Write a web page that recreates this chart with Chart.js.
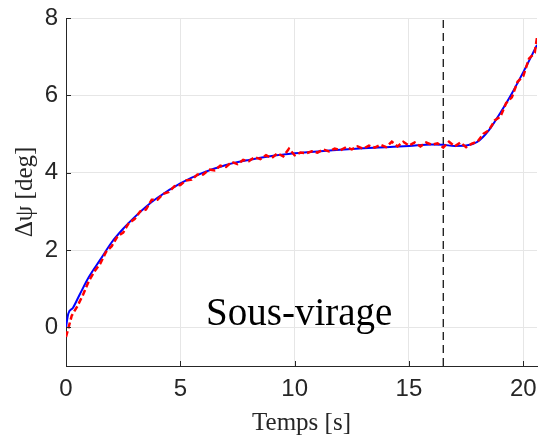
<!DOCTYPE html>
<html>
<head>
<meta charset="utf-8">
<script src="https://cdn.jsdelivr.net/npm/chart.js@4/dist/chart.umd.min.js"></script>
<style>
  html, body { margin: 0; padding: 0; background: #fff; }
  #wrap { width: 540px; height: 439px; }
</style>
</head>
<body>
<div id="wrap"><canvas id="myChart" width="540" height="439"></canvas></div>
<script>
// data

// blue: smooth (model) curve
let tModel = [0, 0.1, 0.3, 0.6, 1, 1.5, 2, 2.5, 3, 3.5, 4, 5, 6, 7, 8, 9, 10, 11, 12, 13, 14, 15, 16, 16.5, 17, 17.5, 18, 18.5, 19, 19.5, 20, 20.6];
let psiModel = [0, 0.35, 0.5, 0.85, 1.3, 1.75, 2.2, 2.55, 2.85, 3.12, 3.35, 3.72, 4.0, 4.2, 4.33, 4.43, 4.5, 4.55, 4.59, 4.63, 4.66, 4.69, 4.73, 4.72, 4.69, 4.7, 4.8, 5.1, 5.55, 6.05, 6.6, 7.3];

// red: measured (noisy) curve
let tMeas = [0, 0.25, 0.5, 0.75, 1, 1.25, 1.5, 1.75, 2, 2.25, 2.5, 2.75, 3, 3.25, 3.5, 3.75, 4, 4.25, 4.5, 4.75,
             5, 5.25, 5.5, 5.75, 6, 6.25, 6.5, 6.75, 7, 7.25, 7.5, 7.75, 8, 8.25, 8.5, 8.75, 9, 9.25, 9.5, 9.75,
             10, 10.25, 10.5, 10.75, 11, 11.25, 11.5, 11.75, 12, 12.25, 12.5, 12.75, 13, 13.25, 13.5, 13.75, 14, 14.25, 14.5, 14.75,
             15, 15.25, 15.5, 15.75, 16, 16.25, 16.5, 16.75, 17, 17.25, 17.5, 17.75, 18, 18.25, 18.5, 18.75, 19, 19.25, 19.5, 19.75,
             20, 20.25, 20.5, 20.6];
let psiMeas = [-0.25, 0.3, 0.55, 0.85, 1.2, 1.45, 1.65, 1.95, 2.1, 2.35, 2.45, 2.7, 2.8, 3.0, 3.05, 3.3, 3.3, 3.45, 3.5, 3.65,
               3.68, 3.8, 3.82, 3.95, 3.95, 4.08, 4.06, 4.18, 4.15, 4.28, 4.22, 4.33, 4.3, 4.4, 4.35, 4.45, 4.38, 4.5, 4.42, 4.62,
               4.45, 4.52, 4.5, 4.55, 4.52, 4.6, 4.55, 4.62, 4.58, 4.66, 4.6, 4.68, 4.62, 4.7, 4.65, 4.72, 4.66, 4.8, 4.68, 4.8,
               4.7, 4.78, 4.68, 4.78, 4.72, 4.76, 4.65, 4.8, 4.68, 4.78, 4.66, 4.75, 4.8, 5.0, 5.1, 5.35, 5.45, 5.8, 5.95, 6.35,
               6.5, 6.95, 7.1, 7.5];

// vertical marker
let tMarker = 16.5;

// axes
let xTicks = [0, 5, 10, 15, 20];
let yTicks = [0, 2, 4, 6, 8];
let xMin = 0, xMax = 20.6;
let yMin = -1, yMax = 8;

// annotation
let noteText = 'Sous-virage';
let noteX = 10.2;
let noteY = 0.07;

function toPoints(xs, ys) {
    return xs.map((x, i) => ({ x: x, y: ys[i] }));
}

// text inside the plot
const notePlugin = {
    id: 'note',
    afterDatasetsDraw(chart) {
        const ctx = chart.ctx;
        const xs = chart.scales.x, ys = chart.scales.y;
        ctx.save();
        ctx.font = '39px "Liberation Serif"';
        ctx.fillStyle = '#000';
        ctx.textAlign = 'center';
        ctx.textBaseline = 'alphabetic';
        ctx.fillText(noteText, xs.getPixelForValue(noteX), ys.getPixelForValue(noteY));
        ctx.restore();
    }
};

// small inward tick marks like matlab
const inTicks = {
    id: 'inTicks',
    afterDraw(chart) {
        const ctx = chart.ctx;
        const xs = chart.scales.x, ys = chart.scales.y;
        const a = chart.chartArea;
        ctx.save();
        ctx.strokeStyle = '#262626';
        ctx.lineWidth = 1;
        ctx.beginPath();
        xTicks.forEach(v => {
            let px = Math.round(xs.getPixelForValue(v)) + 0.5;
            ctx.moveTo(px, a.bottom);
            ctx.lineTo(px, a.bottom - 5);
        });
        yTicks.forEach(v => {
            let py = Math.round(ys.getPixelForValue(v)) + 0.5;
            ctx.moveTo(a.left, py);
            ctx.lineTo(a.left + 5, py);
        });
        ctx.stroke();
        ctx.restore();
    }
};

new Chart(document.getElementById('myChart'), {
    type: 'scatter',
    data: {
        datasets: [
            {
                data: toPoints(tMeas, psiMeas),
                showLine: true,
                borderColor: '#ff0000',
                borderWidth: 2.5,
                borderDash: [6, 3],
                pointRadius: 0,
                tension: 0
            },
            {
                data: toPoints(tModel, psiModel),
                showLine: true,
                borderColor: '#0000ff',
                borderWidth: 2,
                pointRadius: 0,
                cubicInterpolationMode: 'monotone'
            },
            {
                data: toPoints([tMarker, tMarker], [yMin, yMax]),
                showLine: true,
                borderColor: '#000000',
                borderWidth: 1.2,
                borderDash: [8, 5],
                pointRadius: 0
            }
        ]
    },
    options: {
        responsive: false,
        animation: false,
        layout: { padding: { left: 0, right: 3, top: 18, bottom: 0 } },
        plugins: {
            legend: { display: false },
            tooltip: { enabled: false }
        },
        scales: {
            x: {
                type: 'linear',
                min: xMin,
                max: xMax,
                afterBuildTicks: s => { s.ticks = xTicks.map(v => ({ value: v })); },
                afterFit: s => { s.height = 73; s.paddingLeft = 0; s.paddingRight = 0; },
                grid: { color: '#e6e6e6', lineWidth: 1, drawTicks: false },
                border: { color: '#262626', width: 1 },
                ticks: {
                    padding: 9,
                    color: '#262626',
                    font: { family: '"Liberation Sans", Arial', size: 24 },
                    maxRotation: 0
                },
                title: {
                    display: true,
                    text: 'Temps [s]',
                    color: '#262626',
                    font: { family: '"Liberation Serif"', size: 25 },
                    padding: { top: 0, bottom: 1 }
                }
            },
            y: {
                type: 'linear',
                min: yMin,
                max: yMax,
                afterBuildTicks: s => { s.ticks = yTicks.map(v => ({ value: v })); },
                afterFit: s => { s.width = 66; s.paddingTop = 0; s.paddingBottom = 0; },
                grid: { color: '#e6e6e6', lineWidth: 1, drawTicks: false },
                border: { color: '#262626', width: 1 },
                ticks: {
                    padding: 8,
                    color: '#262626',
                    font: { family: '"Liberation Sans", Arial', size: 24 }
                },
                title: {
                    display: true,
                    text: 'Δψ [deg]',
                    color: '#262626',
                    font: { family: '"Liberation Serif"', size: 25 },
                    padding: { top: 10, bottom: 0 }
                }
            }
        }
    },
    plugins: [notePlugin, inTicks]
});
</script>
</body>
</html>
